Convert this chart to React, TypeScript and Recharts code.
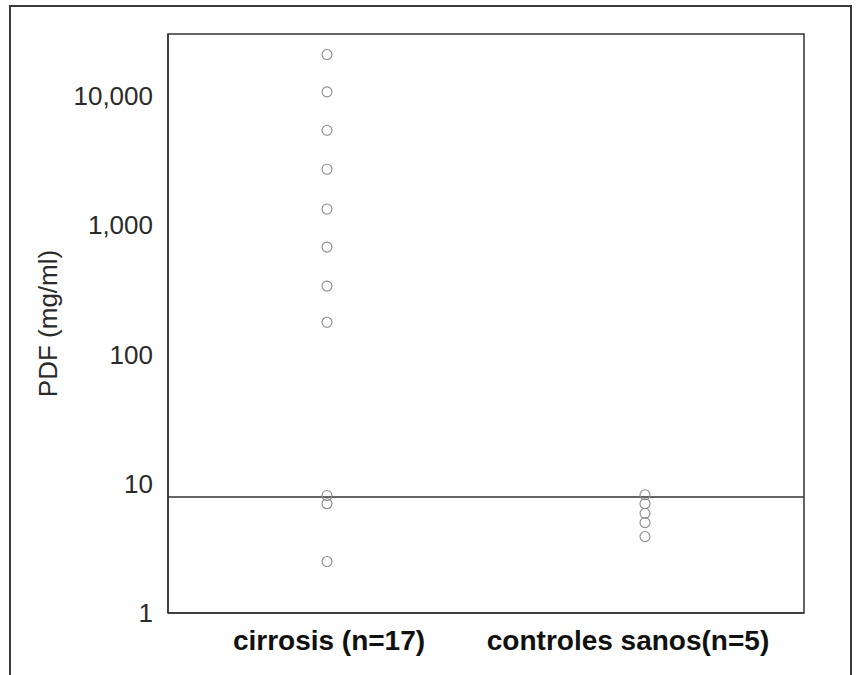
import React from "react";
import {
  ScatterChart,
  Scatter,
  XAxis,
  YAxis,
  ReferenceLine,
  ReferenceArea,
} from "recharts";

const categories = ["cirrosis (n=17)", "controles sanos(n=5)"];
const cirrosisValues = [20800, 10700, 5400, 2700, 1330, 675, 337, 177, 8.1, 7.0, 2.5];
const controlesValues = [8.2, 7.0, 5.9, 5.0, 3.9];
const cutoffValue = 7.9;
const yTicks = [1, 10, 100, 1000, 10000];
const yDomain = [1, 30000];
const yLabel = "PDF (mg/ml)";
const labelShift = [2, -17];

const cirrosisData = cirrosisValues.map((v) => ({ group: categories[0], value: v }));
const controlesData = controlesValues.map((v) => ({ group: categories[1], value: v }));

const FONT = "'Liberation Sans', Arial, sans-serif";

const Ring = (props: any) => {
  const { cx, cy } = props;
  if (cx == null || cy == null) return null;
  return <circle cx={cx} cy={cy} r={5} fill="none" stroke="#8a8a8a" strokeWidth={1.1} />;
};

const CatTick = (props: any) => {
  const { x, y, payload, index } = props;
  const i = categories.indexOf(payload.value);
  const dx = labelShift[i >= 0 ? i : index] || 0;
  return (
    <text
      x={x + dx}
      y={y}
      dy="0.71em"
      textAnchor="middle"
      fontFamily={FONT}
      fontSize={28}
      fontWeight="bold"
      fill="#111"
    >
      {payload.value}
    </text>
  );
};

export default function App() {
  return (
    <div style={{ position: "absolute", left: 0, top: 0, width: 856, height: 675, background: "#fff", overflow: "hidden" }}>
      <div
        style={{
          position: "absolute",
          left: 9,
          top: 5,
          width: 839,
          height: 720,
          borderTop: "2px solid #3a3a3a",
          borderLeft: "2px solid #3a3a3a",
          borderRight: "2px solid #3a3a3a",
        }}
      />
      <div style={{ position: "absolute", left: 0, top: 0 }}>
        <ScatterChart
          width={856}
          height={675}
          margin={{ top: 34, right: 52, left: 0, bottom: 22 }}
        >
          <XAxis
            xAxisId="bottom"
            dataKey="group"
            type="category"
            allowDuplicatedCategory={false}
            height={40}
            axisLine={{ stroke: "#333", strokeWidth: 1.5 }}
            tickLine={false}
            tickSize={8}
            tickMargin={9}
            tick={<CatTick />}
          />
          <YAxis
            yAxisId="left"
            dataKey="value"
            scale="log"
            domain={yDomain}
            ticks={yTicks}
            allowDataOverflow
            width={168}
            axisLine={{ stroke: "#333", strokeWidth: 1.5 }}
            tickLine={false}
            tickSize={8}
            tickMargin={7}
            tickFormatter={(v: number) => v.toLocaleString("en-US")}
            tick={{ fontFamily: FONT, fontSize: 26, fill: "#2a2a2a" }}
            label={{
              value: yLabel,
              angle: -90,
              position: "center",
              dx: -36,
              style: { fontFamily: FONT, fontSize: 26, fill: "#2a2a2a", textAnchor: "middle" },
            }}
          />
          <ReferenceArea
            xAxisId="bottom"
            yAxisId="left"
            y1={yDomain[0]}
            y2={yDomain[1]}
            fill="none"
            fillOpacity={0}
            stroke="#333"
            strokeWidth={1.5}
            ifOverflow="visible"
          />
          <ReferenceLine
            xAxisId="bottom"
            yAxisId="left"
            y={cutoffValue}
            stroke="#333"
            strokeWidth={1.5}
          />
          <Scatter
            xAxisId="bottom"
            yAxisId="left"
            data={cirrosisData}
            isAnimationActive={false}
            shape={Ring}
          />
          <Scatter
            xAxisId="bottom"
            yAxisId="left"
            data={controlesData}
            isAnimationActive={false}
            shape={Ring}
          />
        </ScatterChart>
      </div>
    </div>
  );
}
